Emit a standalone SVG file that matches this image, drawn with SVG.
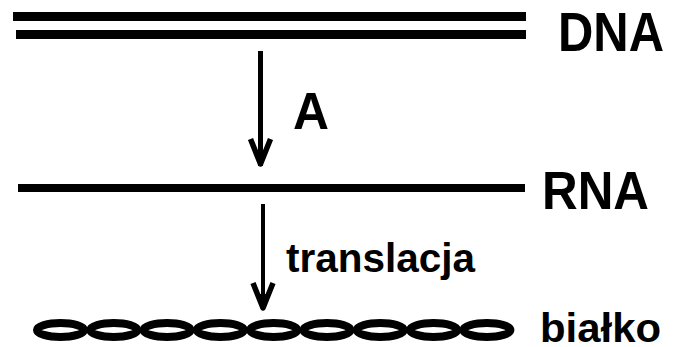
<svg xmlns="http://www.w3.org/2000/svg" width="674" height="347" viewBox="0 0 674 347">
  <style>
    .lbl { font-family: "Liberation Sans", Arial, sans-serif; font-weight: bold; fill: #000; }
    .strand { stroke: #000; fill: none; }
    .conn { stroke: #000; fill: none; }
    .link { fill: none; stroke: #000; stroke-width: 8; }
  </style>
  <defs>
    <marker id="head" markerUnits="userSpaceOnUse" viewBox="-40 -20 45 40" markerWidth="45" markerHeight="40" refX="0" refY="0" orient="auto">
      <path d="M-27,-10 L-2,0 L-27,10" fill="none" stroke="#000" stroke-width="5.5" stroke-linejoin="round"/>
      <path d="M-16,-5 L0,0 L-16,5 Z" fill="#000"/>
    </marker>
  </defs>
  <rect width="674" height="347" fill="#fff"/>

  <g id="dna">
    <line class="strand" x1="13" y1="16.5" x2="526" y2="16.5" stroke-width="9"/>
    <line class="strand" x1="16" y1="34.5" x2="526" y2="34.5" stroke-width="9"/>
    <text class="lbl" x="558" y="51" font-size="55" textLength="106" lengthAdjust="spacingAndGlyphs">DNA</text>
  </g>

  <g id="rna">
    <line class="strand" x1="18" y1="188" x2="525" y2="188" stroke-width="8"/>
    <text class="lbl" x="542" y="209" font-size="53" textLength="107" lengthAdjust="spacingAndGlyphs">RNA</text>
  </g>

  <g id="protein">
    <ellipse class="link" cx="60.5" cy="330" rx="23.5" ry="7"/>
    <ellipse class="link" cx="113.8" cy="330" rx="23.5" ry="7"/>
    <ellipse class="link" cx="167.1" cy="330" rx="23.5" ry="7"/>
    <ellipse class="link" cx="220.4" cy="330" rx="23.5" ry="7"/>
    <ellipse class="link" cx="273.7" cy="330" rx="23.5" ry="7"/>
    <ellipse class="link" cx="327" cy="330" rx="23.5" ry="7"/>
    <ellipse class="link" cx="380.3" cy="330" rx="23.5" ry="7"/>
    <ellipse class="link" cx="433.6" cy="330" rx="23.5" ry="7"/>
    <ellipse class="link" cx="486.9" cy="330" rx="23.5" ry="7"/>
    <text class="lbl" x="540" y="342" font-size="41" textLength="121" lengthAdjust="spacingAndGlyphs">białko</text>
  </g>

  <g id="connectors">
    <line class="conn" x1="260.5" y1="51" x2="260.5" y2="166" stroke-width="5" marker-end="url(#head)"/>
    <text class="lbl" x="293" y="129" font-size="52" textLength="36" lengthAdjust="spacingAndGlyphs">A</text>
    <line class="conn" x1="263" y1="204" x2="263" y2="310" stroke-width="4" marker-end="url(#head)"/>
    <text class="lbl" x="286" y="272" font-size="40" textLength="189" lengthAdjust="spacingAndGlyphs">translacja</text>
  </g>
</svg>
